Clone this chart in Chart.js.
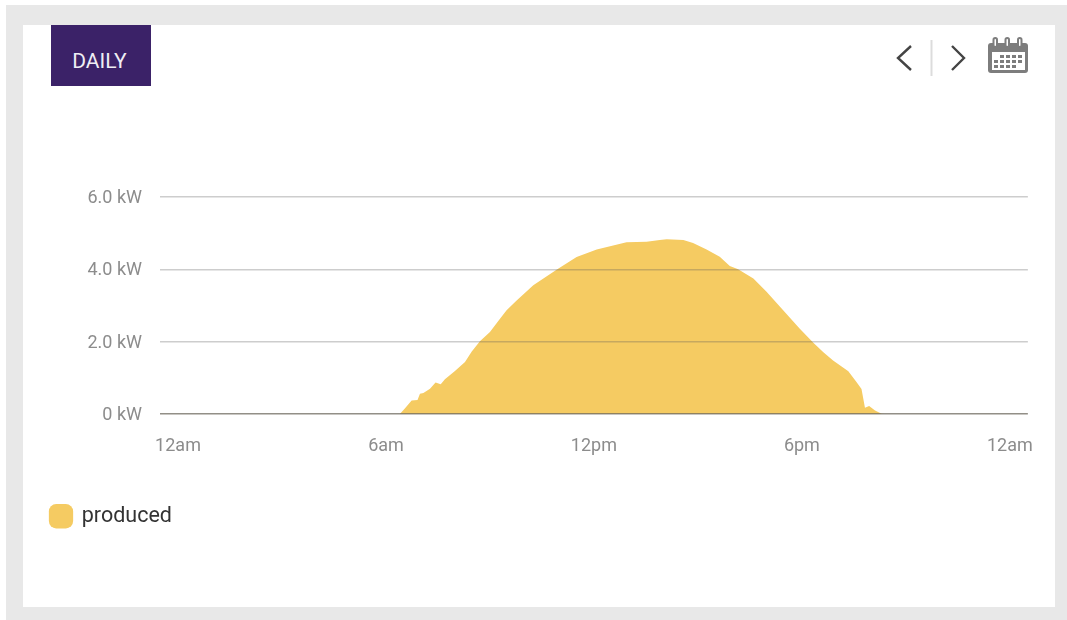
<!DOCTYPE html>
<html lang="en">
<head>
    <meta charset="UTF-8">
    <title>Daily production</title>
    <script src="https://cdn.jsdelivr.net/npm/chart.js"></script>
    <style>
        html, body {
            margin: 0;
            padding: 0;
            background-color: #ffffff;
            font-family: Roboto, sans-serif;
        }
        .frame {
            position: absolute;
            left: 6px;
            top: 5px;
            width: 1061px;
            height: 615px;
            background-color: #e8e8e8;
        }
        .card {
            position: absolute;
            left: 23px;
            top: 25px;
            width: 1032px;
            height: 582px;
            background-color: #ffffff;
        }
        .daily {
            position: absolute;
            left: 51px;
            top: 25px;
            width: 97px;
            height: 61px;
            padding-right: 3px;
            background-color: #3b2268;
            color: #f0eef4;
            font-size: 21px;
            font-weight: 400;
            text-align: center;
            line-height: 72px;
        }
        .icons {
            position: absolute;
            left: 880px;
            top: 20px;
        }
        .chart-box {
            position: absolute;
            left: 41px;
            top: 150px;
            width: 1006px;
            height: 387px;
        }
    </style>
</head>
<body>
<div class="frame"></div>
<div class="card"></div>
<div class="daily">DAILY</div>
<svg class="icons" width="170" height="70" viewBox="0 0 170 70">
    <path d="M31 26 L18 38 L31 50" fill="none" stroke="#444" stroke-width="2.4"/>
    <line x1="51.5" y1="20" x2="51.5" y2="56" stroke="#dcdcdc" stroke-width="2"/>
    <path d="M72 26 L84 38 L72 50" fill="none" stroke="#444" stroke-width="2.4"/>
    <rect x="108" y="23" width="40" height="30" rx="3" fill="#7d7d7d"/>
    <rect x="112" y="32" width="33" height="18" fill="#ffffff"/>
    <g fill="none" stroke="#7d7d7d" stroke-width="2">
        <rect x="113.5" y="18" width="3.5" height="9" rx="1.7" fill="#fff"/>
        <rect x="125.5" y="18" width="3.5" height="9" rx="1.7" fill="#fff"/>
        <rect x="138" y="18" width="3.5" height="9" rx="1.7" fill="#fff"/>
    </g>
    <g fill="#7d7d7d">
        <rect x="120" y="35" width="4" height="3"/><rect x="126" y="35" width="4" height="3"/><rect x="132" y="35" width="4" height="3"/><rect x="138" y="35" width="4" height="3"/>
        <rect x="114" y="40" width="4" height="3"/><rect x="120" y="40" width="4" height="3"/><rect x="126" y="40" width="4" height="3"/><rect x="132" y="40" width="4" height="3"/><rect x="138" y="40" width="4" height="3"/>
        <rect x="114" y="45" width="4" height="3"/><rect x="120" y="45" width="4" height="3"/><rect x="126" y="45" width="4" height="3"/><rect x="132" y="45" width="4" height="3"/>
    </g>
</svg>
<div class="chart-box"><canvas id="prodChart"></canvas></div>

<script>
    // hours since midnight
    const hours = [0, 6.40, 6.55, 6.74, 6.91, 6.98, 7.08, 7.27, 7.43, 7.58, 7.70, 7.99, 8.28, 8.47, 8.71, 9.00, 9.24,
        9.48, 9.77, 10.25, 10.92, 11.50, 12.08, 12.94, 13.52, 13.90, 14.10, 14.58, 14.86, 15.25, 15.63, 15.92,
        16.16, 16.60, 16.98, 17.46, 17.94, 18.33, 18.62, 18.90, 19.34, 19.58, 19.72, 19.82, 19.94, 20.11, 20.30, 20.39, 24];
    const produced = [0, 0, 0.16, 0.37, 0.39, 0.56, 0.58, 0.70, 0.87, 0.82, 0.96, 1.19, 1.44, 1.72, 2.01, 2.27, 2.57,
        2.87, 3.14, 3.56, 3.99, 4.34, 4.55, 4.75, 4.76, 4.81, 4.83, 4.81, 4.73, 4.55, 4.35, 4.09,
        4.00, 3.75, 3.38, 2.87, 2.36, 1.97, 1.71, 1.48, 1.18, 0.88, 0.69, 0.17, 0.22, 0.10, 0.01, 0, 0];
    const xTicks = [0, 6, 12, 18, 24];
    const xLabels = ['12am', '6am', '12pm', '6pm', '12am'];
    const yTicks = [0, 2, 4, 6];
    const yLabels = ['0 kW', '2.0 kW', '4.0 kW', '6.0 kW'];

    new Chart(document.getElementById('prodChart'), {
        type: 'line',
        data: {
            datasets: [{
                label: 'produced',
                data: hours.map((h, i) => ({ x: h, y: produced[i] })),
                fill: 'origin',
                backgroundColor: '#f5cb62',
                borderWidth: 0,
                pointRadius: 0,
                tension: 0
            }]
        },
        options: {
            responsive: true,
            maintainAspectRatio: false,
            animation: false,
            layout: { padding: { top: 47, right: 12, left: 0, bottom: 0 } },
            plugins: {
                tooltip: { enabled: false },
                legend: {
                    position: 'bottom',
                    align: 'start',
                    labels: {
                        usePointStyle: true,
                        pointStyle: 'rectRounded',
                        boxWidth: 20,
                        boxHeight: 20,
                        color: '#333333',
                        font: { family: 'Roboto', size: 21.5 }
                    }
                }
            },
            scales: {
                x: {
                    type: 'linear',
                    min: -0.52,
                    max: 24.52,
                    afterBuildTicks: axis => { axis.ticks = xTicks.map(v => ({ value: v })); },
                    afterFit: axis => { axis.height = 81.5; },
                    grid: { display: false },
                    border: { display: false },
                    ticks: {
                        autoSkip: false,
                        maxRotation: 0,
                        padding: 14,
                        color: '#8c8c8c',
                        font: { family: 'Roboto', size: 18 },
                        callback: v => xLabels[xTicks.indexOf(v)]
                    }
                },
                y: {
                    min: 0,
                    max: 6,
                    afterBuildTicks: axis => { axis.ticks = yTicks.map(v => ({ value: v })); },
                    afterFit: axis => { axis.width = 119; },
                    grid: {
                        z: 1,
                        drawTicks: false,
                        lineWidth: 1.5,
                        color: ctx => ctx.tick.value === 0 ? 'rgba(110,105,95,0.75)' : 'rgba(90,90,90,0.3)'
                    },
                    border: { display: false },
                    ticks: {
                        padding: 18,
                        labelOffset: 1.5,
                        color: '#8c8c8c',
                        font: { family: 'Roboto', size: 18 },
                        callback: v => yLabels[yTicks.indexOf(v)]
                    }
                }
            }
        }
    });
</script>
</body>
</html>
